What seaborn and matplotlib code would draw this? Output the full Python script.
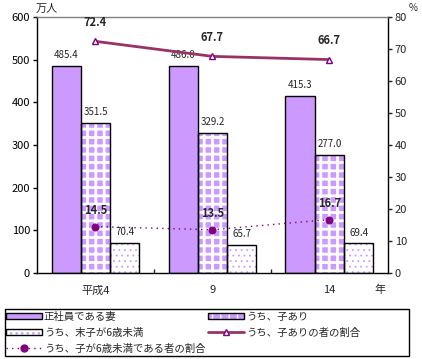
import matplotlib
matplotlib.use("Agg")
import matplotlib.pyplot as plt
import seaborn as sns
import pandas as pd
from matplotlib.patches import Patch, Rectangle
from matplotlib.lines import Line2D
from matplotlib.legend_handler import HandlerTuple

# data
years = ["平成4", "9", "14"]
wives = [485.4, 486.0, 415.3]          # 正社員である妻 (万人)
with_child = [351.5, 329.2, 277.0]     # うち、子あり
young_child = [70.4, 65.7, 69.4]       # うち、末子が6歳未満
pct_child = [72.4, 67.7, 66.7]         # うち、子ありの者の割合 (%)
pct_young = [14.5, 13.5, 16.7]         # うち、子が6歳未満である者の割合 (%)

series = ["正社員である妻", "うち、子あり", "うち、末子が6歳未満"]
bar_df = pd.DataFrame({
    "年": years * 3,
    "系列": [series[0]] * 3 + [series[1]] * 3 + [series[2]] * 3,
    "万人": wives + with_child + young_child,
})
pct_df = pd.DataFrame({"x": [0, 1, 2], "子あり": pct_child, "6歳未満": pct_young})

sns.set_theme(style="white")
plt.rcParams["font.family"] = ["Noto Sans CJK JP", "DejaVu Sans"]

purple = "#CC99FF"
dark = "#800080"
wine = "#993366"

# face, hatch, hatch colour, hatch linewidth
styles = [
    (purple, None, purple, 1.0),
    (purple, "++", "white", 2.0),
    ("white", "...", purple, 0.6),
]


def styled_patch(p, face, hatch, hcol, hlw):
    p.set_facecolor(face)
    p.set_edgecolor(hcol)
    p.set_linewidth(0)
    if hatch:
        p.set_hatch(hatch)
        if hasattr(p, "set_hatch_linewidth"):
            p.set_hatch_linewidth(hlw)


fig = plt.figure(figsize=(4.22, 3.59), dpi=100)
ax = fig.add_axes([0.0877, 0.2396, 0.8313, 0.713])

sns.barplot(data=bar_df, x="年", y="万人", hue="系列", ax=ax, width=0.75,
            palette=["white"] * 3, legend=False, saturation=1, gap=0)

for cont, st in zip(ax.containers, styles):
    for p in cont:
        styled_patch(p, *st)
        # black outline on top
        ax.add_patch(Rectangle(p.get_xy(), p.get_width(), p.get_height(),
                               facecolor="none", edgecolor="black", lw=1.0, zorder=3))
    ax.bar_label(cont, fmt="%.1f", padding=4, fontsize=7)

ax.set_ylim(0, 600)
ax.set_xlim(-0.5, 2.5)
ax.set_yticks(range(0, 601, 100))
ax.set_xlabel("")
ax.set_ylabel("")
ax.tick_params(axis="y", which="major", left=True, direction="out", length=3,
               width=1, pad=2, labelsize=8, colors="black")
ax.set_xticks([0.5, 1.5], minor=True)
ax.tick_params(axis="x", which="major", length=0, pad=9, labelsize=8)
ax.tick_params(axis="x", which="minor", bottom=True, direction="in", length=3, width=1)
for s in ["left", "right", "bottom"]:
    ax.spines[s].set_color("black")
    ax.spines[s].set_linewidth(1)
ax.spines["top"].set_color("#808080")
ax.spines["top"].set_linewidth(1)

ax2 = ax.twinx()
sns.lineplot(data=pct_df, x="x", y="子あり", ax=ax2, color=wine, lw=2,
             marker="^", markersize=5, markerfacecolor="white",
             markeredgecolor=dark, markeredgewidth=1)
sns.lineplot(data=pct_df, x="x", y="6歳未満", ax=ax2, color=dark, lw=1,
             linestyle=(0, (1, 3)), marker="o", markersize=5,
             markerfacecolor=dark, markeredgecolor=dark)
ax2.set_ylim(0, 80)
ax2.set_yticks(range(0, 81, 10))
ax2.set_ylabel("")
ax2.set_xlabel("")
ax2.tick_params(axis="y", right=True, direction="out", length=3, width=1,
                pad=2, labelsize=8)
for s in ax2.spines.values():
    s.set_visible(False)

for x, v in zip(pct_df["x"], pct_child):
    ax2.annotate(f"{v:.1f}", (x, v), xytext=(0, 9), textcoords="offset points",
                 ha="center", va="bottom", fontsize=8, fontweight="bold")
for x, v in zip(pct_df["x"], pct_young):
    ax2.annotate(f"{v:.1f}", (x, v), xytext=(0, 7), textcoords="offset points",
                 ha="center", va="bottom", fontsize=8, fontweight="bold")

fig.text(0.085, 0.975, "万人", fontsize=8, ha="left", va="center")
fig.text(0.978, 0.978, "%", fontsize=7, ha="center", va="center")
ax.text(2.43, -0.045, "年", transform=ax.get_xaxis_transform(), fontsize=8,
        ha="center", va="top")

# legend: drawn without frame, box added separately so it can be wider than its content
def bar_handle(face, hatch, hcol, hlw):
    p = Patch()
    styled_patch(p, face, hatch, hcol, hlw)
    return (p, Patch(facecolor="none", edgecolor="black", lw=1))

h_pc = Line2D([], [], color=wine, lw=2, marker="^", markersize=5,
              markerfacecolor="white", markeredgecolor=dark)
h_py = Line2D([], [], color=dark, lw=1, linestyle=(0, (1, 3)), marker="o",
              markersize=5, markerfacecolor=dark)
leg = fig.legend(
    [bar_handle(*styles[0]), bar_handle(*styles[2]), h_py,
     bar_handle(*styles[1]), h_pc],
    ["正社員である妻", "うち、末子が6歳未満", "うち、子が6歳未満である者の割合",
     "うち、子あり", "うち、子ありの者の割合"],
    ncol=2, loc="upper left", bbox_to_anchor=(0.010, 0.137),
    borderaxespad=0, borderpad=0.2, fontsize=7.5, frameon=False,
    handlelength=3.4, handleheight=0.5, handletextpad=0.2,
    labelspacing=0.55, columnspacing=0.3,
    handler_map={tuple: HandlerTuple(ndivide=1, pad=0)},
)
fig.patches.append(Rectangle((0.0118, 0.0084), 0.957, 0.131, transform=fig.transFigure,
                             facecolor="none", edgecolor="black", lw=1))

fig.savefig("out.png", dpi=100)
